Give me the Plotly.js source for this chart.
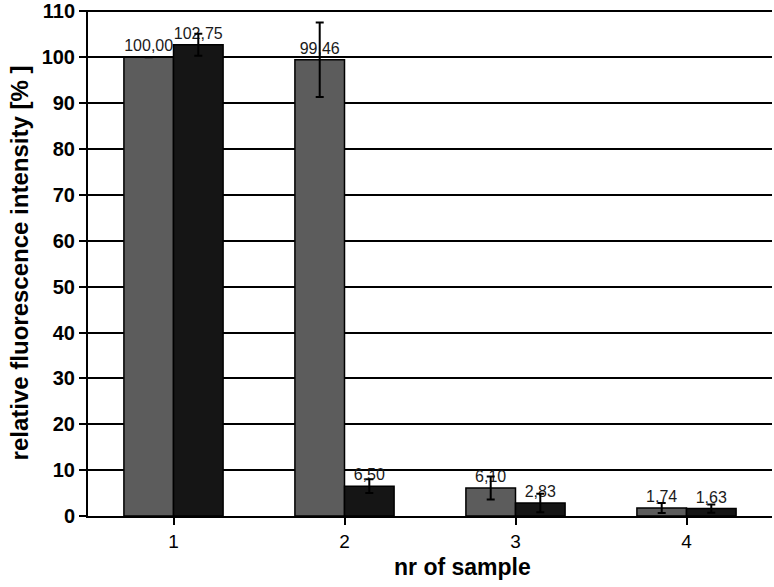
<!DOCTYPE html>
<html>
<head>
<meta charset="utf-8">
<script src="https://cdn.plot.ly/plotly-3.0.1.min.js"></script>
<style>
  html, body { margin: 0; padding: 0; background: #fff; }
  #chart { width: 774px; height: 587px; }
</style>
</head>
<body>
<div id="chart"></div>
<script>
// samples on the x axis
var samples = ["1", "2", "3", "4"];

// two series of relative intensity and their errors
var seriesA = [100.00, 99.46, 6.10, 1.74];
var errorsA = [0, 8.1, 2.5, 1.1];
var seriesB = [102.75, 6.50, 2.83, 1.63];
var errorsB = [2.4, 1.5, 2.0, 0.9];

var yTicks = [0, 10, 20, 30, 40, 50, 60, 70, 80, 90, 100, 110];

var fontFam = "Liberation Sans, Arial, sans-serif";

function makeTrace(values, errors, color) {
    return {
        x: samples,
        y: values,
        type: "bar",
        marker: { color: color, line: { color: "#000", width: 1.5 } },
        error_y: { type: "data", array: errors, visible: true, color: "#000", thickness: 2, width: 4 },
        texttemplate: "%{y:.2f}",
        textposition: "outside",
        cliponaxis: false,
        textfont: { family: fontFam, size: 16, color: "#1a1a1a" }
    };
}

var data = [makeTrace(seriesA, errorsA, "#5c5c5c"), makeTrace(seriesB, errorsB, "#151515")];

var layout = {
    width: 774,
    height: 587,
    margin: { l: 88, r: 2, t: 10, b: 71 },
    paper_bgcolor: "#fff",
    plot_bgcolor: "#fff",
    showlegend: false,
    separators: ",.",
    barmode: "group",
    bargap: 0.42,
    bargroupgap: 0,
    font: { family: fontFam, color: "#000" },
    xaxis: {
        tickfont: { size: 19 },
        showline: true, linecolor: "#000", linewidth: 2,
        ticks: "outside", tickson: "boundaries", ticklen: 7, tickwidth: 2, tickcolor: "#000",
        showgrid: false
    },
    yaxis: {
        title: { text: "relative fluorescence intensity [% ]", font: { size: 24, weight: "bold" }, standoff: 6 },
        range: [0, 110.3],
        autorange: false,
        tickvals: yTicks,
        ticklabeloverflow: "allow",
        tickfont: { size: 20, weight: "bold" },
        showline: true, linecolor: "#000", linewidth: 2,
        ticks: "outside", ticklen: 7, tickwidth: 2, tickcolor: "#000",
        showgrid: true, gridcolor: "#000", gridwidth: 2,
        zeroline: false
    },
    annotations: [{
        text: "nr of sample",
        xref: "paper", yref: "paper",
        x: 0.548, y: -0.1,
        xanchor: "center", yanchor: "middle",
        showarrow: false,
        font: { family: fontFam, size: 23, weight: "bold", color: "#000" }
    }]
};

Plotly.newPlot("chart", data, layout, { displayModeBar: false });
</script>
</body>
</html>
